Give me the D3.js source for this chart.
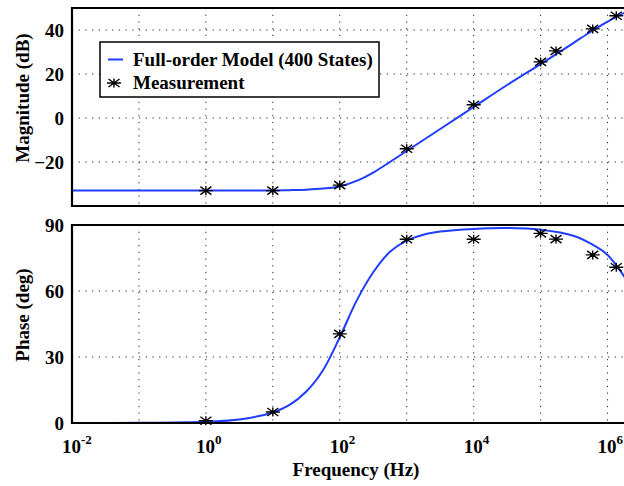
<!DOCTYPE html>
<html>
<head>
<meta charset="utf-8">
<script src="https://cdn.jsdelivr.net/npm/d3@7"></script>
<style>
body { margin: 0; background: #fff; }
svg text { font-family: "Liberation Serif", "Times New Roman", serif; font-weight: bold; fill: #000; }
</style>
</head>
<body>
<svg id="bode" width="624" height="486"></svg>
<script>
// measured points
var measFreq  = [1, 10, 100, 1000, 1e4, 1e5, 1.7e5, 6e5, 1.35e6]
var measMag   = [-33, -33, -30.5, -14, 6, 25.5, 30.5, 40.5, 46.5]
var measPhase = [1, 5, 40.5, 83.5, 83.5, 86.2, 83.6, 76.4, 70.8]

// full-order model response
var modelFreq  = [0.01, 0.1, 1, 3.16, 10, 17.8, 31.6, 56.2, 100, 178, 316, 562, 1000, 1778, 3162, 1e4, 31623, 1e5, 316228, 562341, 1e6, 1.78e6, 3.16e6]
var modelMag   = [-33, -33, -33, -33, -32.9, -32.8, -32.6, -32.1, -31.1, -28.6, -24.8, -20, -15, -10, -5, 5, 15, 24.5, 34.3, 39.2, 43.8, 47.8, 50.8]
var modelPhase = [0.05, 0.1, 0.6, 1.6, 4.8, 8.2, 14.3, 24, 39, 55.5, 68.5, 77.8, 82.9, 85.6, 87, 88.2, 88.6, 87.8, 85, 81.5, 76.4, 66.5, 54]

var xTicks = [-2, 0, 2, 4, 6]
var xGrid = [0.1, 1, 10, 100, 1000, 1e4, 1e5, 1e6]
var magTicks = [-20, 0, 20, 40]
var phaseTicks = [0, 30, 60, 90]

var blue = "#1f3dff"
var svg = d3.select("#bode")

var x = d3.scaleLog().domain([0.01, 3.16e6]).range([72, 641])
var yMag = d3.scaleLinear().domain([-40, 50]).range([206, 8])
var yPh = d3.scaleLinear().domain([0, 90]).range([423, 225])

function star(g, px, py) {
	g.append("path")
		.attr("transform", "translate(" + px + "," + py + ")")
		.attr("d", "M-7,0H7M0,-4.5V4.5M-5.5,-4L5.5,4M-5.5,4L5.5,-4")
		.attr("stroke", "#000").attr("stroke-width", 1.4).attr("fill", "none")
}

function panel(y, yTicks, gridVals, model, meas, label) {
	var g = svg.append("g")
	var top = y.range()[1], bottom = y.range()[0]
	var left = x.range()[0], right = x.range()[1]

	// dotted grid
	g.selectAll(".vg").data(xGrid).enter().append("line")
		.attr("x1", function(d) { return x(d) }).attr("x2", function(d) { return x(d) })
		.attr("y1", top).attr("y2", bottom)
		.attr("stroke", "#222").attr("stroke-width", 1).attr("stroke-dasharray", "1.2,5.5")
	g.selectAll(".hg").data(gridVals).enter().append("line")
		.attr("x1", left).attr("x2", right)
		.attr("y1", function(d) { return y(d) }).attr("y2", function(d) { return y(d) })
		.attr("stroke", "#222").attr("stroke-width", 1).attr("stroke-dasharray", "1.2,5.5")

	var line = d3.line()
		.x(function(d, i) { return x(modelFreq[i]) })
		.y(function(d) { return y(d) })
		.curve(d3.curveCatmullRom.alpha(0.5))
	g.append("path").datum(model)
		.attr("d", line)
		.attr("fill", "none").attr("stroke", blue).attr("stroke-width", 2)

	meas.forEach(function(v, i) { star(g, x(measFreq[i]), y(v)) })

	// frame (top, left, bottom)
	g.append("path")
		.attr("d", "M" + right + "," + top + "H" + left + "V" + bottom + "H" + right)
		.attr("fill", "none").attr("stroke", "#000").attr("stroke-width", 2.2)

	g.selectAll(".yt").data(yTicks).enter().append("text")
		.attr("x", 64).attr("y", function(d) { return y(d) })
		.attr("dy", "0.35em").attr("text-anchor", "end")
		.style("font-size", "19px")
		.text(function(d) { return d < 0 ? "\u2212" + (-d) : d })

	g.append("text")
		.attr("transform", "translate(29," + ((top + bottom) / 2 - 9) + ") rotate(-90)")
		.attr("text-anchor", "middle")
		.style("font-size", "19px")
		.text(label)
	return g
}

panel(yMag, magTicks, [-20, 0, 20, 40], modelMag, measMag, "Magnitude (dB)")
var bottomPanel = panel(yPh, phaseTicks, [30, 60], modelPhase, measPhase, "Phase (deg)")

// x tick labels 10^n, the "10" sits centred on the tick
xTicks.forEach(function(p) {
	var t = bottomPanel.append("text")
		.attr("x", x(Math.pow(10, p)) - 10).attr("y", 453)
		.style("font-size", "19px")
	t.append("tspan").text("10")
	t.append("tspan").attr("dy", -9).style("font-size", "13px").text(p < 0 ? "-" + (-p) : p)
})

svg.append("text")
	.attr("x", 356).attr("y", 476)
	.attr("text-anchor", "middle")
	.style("font-size", "19px")
	.text("Frequency (Hz)")

// legend
var leg = svg.append("g")
leg.append("rect").attr("x", 100).attr("y", 42).attr("width", 279).attr("height", 55)
	.attr("fill", "#fff").attr("stroke", "#000").attr("stroke-width", 1.5)
leg.append("line").attr("x1", 108).attr("x2", 123).attr("y1", 59.5).attr("y2", 59.5)
	.attr("stroke", blue).attr("stroke-width", 2)
star(leg, 114, 83)
leg.append("text").attr("x", 133).attr("y", 66).style("font-size", "19px").text("Full-order Model (400 States)")
leg.append("text").attr("x", 133).attr("y", 89).style("font-size", "19px").text("Measurement")
</script>
</body>
</html>
